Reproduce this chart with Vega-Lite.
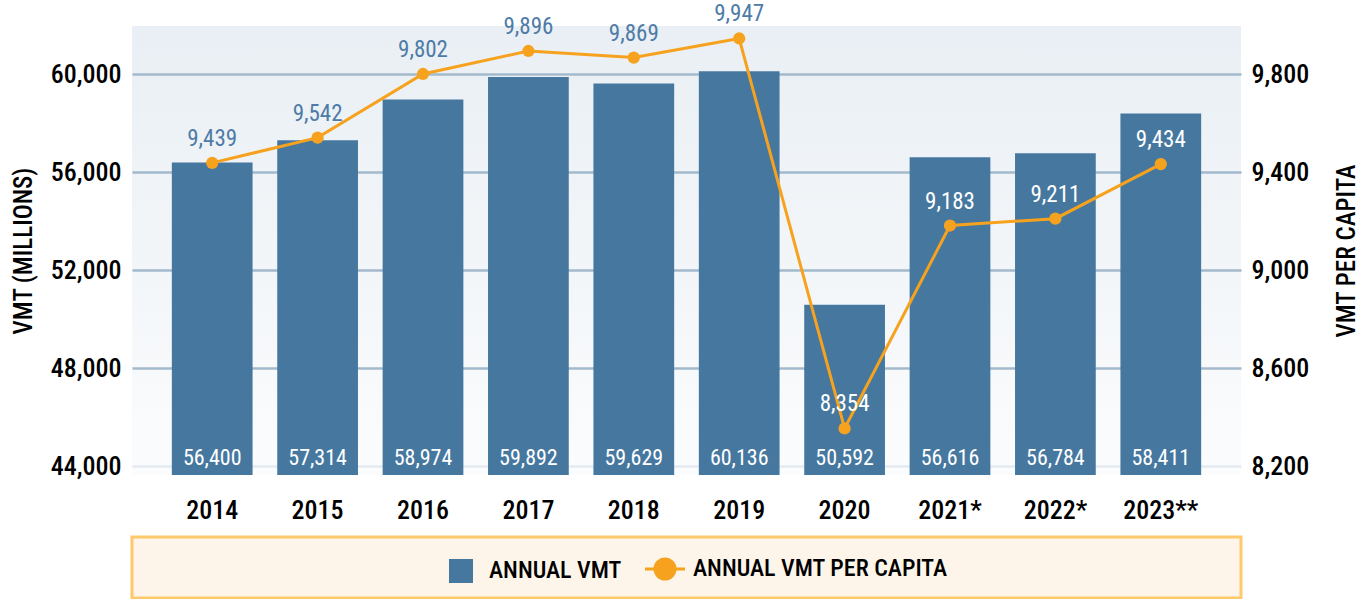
{
  "$schema": "https://vega.github.io/schema/vega-lite/v6.json",
  "padding": {"left": 11, "top": 3, "right": 0, "bottom": 0},
  "background": "white",
  "spacing": 62,
  "bounds": "flush",
  "config": {
    "font": "Roboto Condensed, DejaVu Sans Condensed, Roboto, sans-serif",
    "view": {"stroke": null},
    "axis": {
      "labelFont": "Roboto Condensed, DejaVu Sans Condensed, Roboto, sans-serif",
      "titleFont": "Roboto Condensed, DejaVu Sans Condensed, Roboto, sans-serif",
      "labelColor": "#000000",
      "titleColor": "#000000",
      "domain": false,
      "ticks": false,
      "titleFontWeight": 500,
      "labelFontWeight": 500
    },
    "legend": {
      "labelFont": "Roboto Condensed, DejaVu Sans Condensed, Roboto, sans-serif",
      "labelFontSize": 24,
      "labelFontWeight": 500,
      "labelColor": "#000000",
      "labelLimit": 500
    }
  },
  "datasets": {
    "vmt": [
      {"year": "2014", "vmt": 56400, "per_capita": 9439},
      {"year": "2015", "vmt": 57314, "per_capita": 9542},
      {"year": "2016", "vmt": 58974, "per_capita": 9802},
      {"year": "2017", "vmt": 59892, "per_capita": 9896},
      {"year": "2018", "vmt": 59629, "per_capita": 9869},
      {"year": "2019", "vmt": 60136, "per_capita": 9947},
      {"year": "2020", "vmt": 50592, "per_capita": 8354},
      {"year": "2021*", "vmt": 56616, "per_capita": 9183},
      {"year": "2022*", "vmt": 56784, "per_capita": 9211},
      {"year": "2023**", "vmt": 58411, "per_capita": 9434}
    ]
  },
  "vconcat": [
    {
      "width": 1109,
      "height": 449,
      "view": {
        "fill": {
          "gradient": "linear",
          "x1": 0, "y1": 0, "x2": 0, "y2": 1,
          "stops": [
            {"offset": 0, "color": "#e9eff4"},
            {"offset": 1, "color": "#fbfcfd"}
          ]
        },
        "stroke": null
      },
      "data": {"name": "vmt"},
      "encoding": {
        "x": {
          "field": "year",
          "type": "nominal",
          "sort": null,
          "scale": {"paddingInner": 0.234, "paddingOuter": 0.378},
          "axis": {
            "title": null,
            "labelAngle": 0,
            "labelFontSize": 26,
            "labelPadding": 22,
            "grid": false
          }
        }
      },
      "layer": [
        {
          "layer": [
            {
              "mark": {"type": "bar", "color": "#46789f"},
              "encoding": {
                "y": {
                  "field": "vmt",
                  "type": "quantitative",
                  "scale": {"domain": [43640, 61980], "nice": false, "zero": false},
                  "axis": {
                    "title": "VMT (MILLIONS)",
                    "titleAngle": 270,
                    "titleFontSize": 25,
                    "titlePadding": 14,
                    "values": [44000, 48000, 52000, 56000, 60000],
                    "format": ",d",
                    "labelFontSize": 26,
                    "labelPadding": 11,
                    "grid": true,
                    "gridWidth": 2.5,
                    "gridColor": {"condition": {"test": "datum.value == 44000", "value": "#e3ebf1"}, "value": "#a3bacd"}
                  }
                },
                "y2": {"datum": 43640},
                "color": {
                  "datum": "ANNUAL VMT",
                  "type": "nominal",
                  "scale": {"domain": ["ANNUAL VMT", "ANNUAL VMT PER CAPITA"], "range": ["#46789f", "#f7a21e"]},
                  "legend": {
                    "title": null,
                    "orient": "none",
                    "direction": "horizontal",
                    "legendX": 317,
                    "legendY": 531,
                    "padding": 0,
                    "symbolSize": 1600,
                    "labelOffset": 16,
                    "columnPadding": 17,
                    "encoding": {
                      "symbols": {
                        "shape": {"value": {"expr": "datum.value === 'ANNUAL VMT' ? 'M-0.6,-0.6H0.6V0.6H-0.6Z' : 'M-1,0H1M0.5,0A0.5,0.5,0,1,1,-0.5,0A0.5,0.5,0,1,1,0.5,0Z'"}},
                        "fill": {"value": {"expr": "datum.value === 'ANNUAL VMT' ? '#46789f' : '#f7a21e'"}},
                        "stroke": {"value": {"expr": "datum.value === 'ANNUAL VMT' ? '#46789f' : '#f7a21e'"}},
                        "strokeWidth": {"value": {"expr": "datum.value === 'ANNUAL VMT' ? 0 : 3"}},
                        "opacity": {"value": 1}
                      }
                    }
                  }
                }
              }
            },
            {
              "mark": {"type": "text", "color": "#ffffff", "fontSize": 22, "baseline": "alphabetic", "dy": -10},
              "encoding": {
                "y": {"datum": 43640, "type": "quantitative"},
                "text": {"field": "vmt", "type": "quantitative", "format": ","}
              }
            }
          ]
        },
        {
          "layer": [
            {
              "mark": {"type": "line", "strokeWidth": 3, "point": {"filled": true, "size": 150}},
              "encoding": {
                "y": {
                  "field": "per_capita",
                  "type": "quantitative",
                  "scale": {"domain": [8164, 9998], "nice": false, "zero": false},
                  "axis": {
                    "orient": "right",
                    "title": "VMT PER CAPITA",
                    "titleAngle": 270,
                    "titleBaseline": "top",
                    "titleFontSize": 25,
                    "titlePadding": 26,
                    "values": [8200, 8600, 9000, 9400, 9800],
                    "format": ",d",
                    "labelFontSize": 26,
                    "labelPadding": 10,
                    "grid": false
                  }
                },
                "color": {"datum": "ANNUAL VMT PER CAPITA", "type": "nominal"}
              }
            },
            {
              "mark": {"type": "text", "fontSize": 23, "baseline": "alphabetic", "dy": -17},
              "encoding": {
                "y": {"field": "per_capita", "type": "quantitative"},
                "text": {"field": "per_capita", "type": "quantitative", "format": ","},
                "color": {"condition": {"test": "datum.year >= '2020'", "value": "#ffffff"}, "value": "#4e7ba7"}
              }
            }
          ]
        }
      ],
      "resolve": {"scale": {"y": "independent"}}
    },
    {
      "width": 1109,
      "height": 61,
      "view": {"fill": "#fef5ea", "stroke": "#fdc96a", "strokeWidth": 3},
      "data": {"values": []},
      "mark": "point"
    }
  ]
}
